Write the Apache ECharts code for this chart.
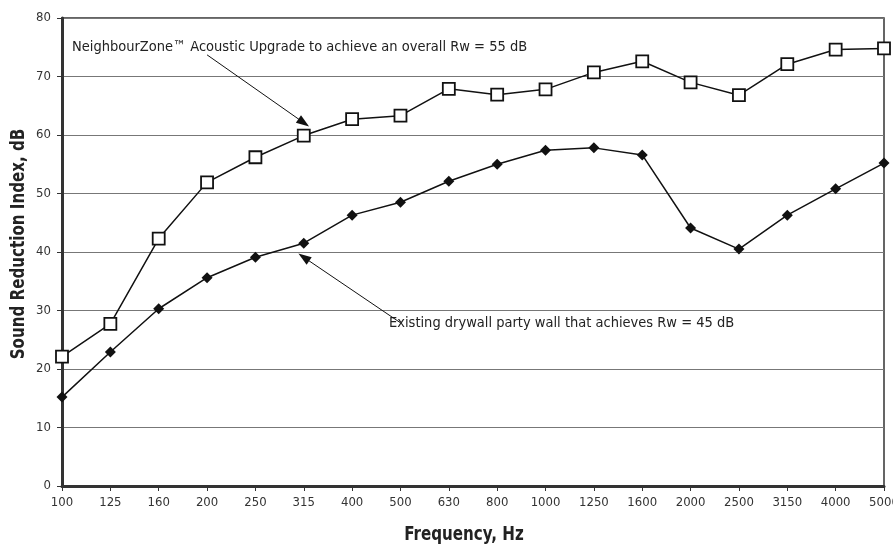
<!DOCTYPE html>
<html><head><meta charset="utf-8">
<script src="https://cdn.jsdelivr.net/npm/echarts@6/dist/echarts.min.js"></script>
<style>html,body{margin:0;padding:0;background:#fff}#c{width:893px;height:546px}</style>
</head><body><div id="c"></div>
<script>
const categories = ['100','125','160','200','250','315','400','500','630','800','1000','1250','1600','2000','2500','3150','4000','5000'];
const upgradeValues = [22.1,27.7,42.3,51.9,56.2,59.9,62.7,63.3,67.9,66.9,67.8,70.7,72.6,69.0,66.8,72.1,74.6,74.8];
const existingValues = [15.2,22.9,30.3,35.6,39.1,41.5,46.3,48.5,52.1,55.0,57.4,57.8,56.6,44.1,40.5,46.3,50.8,55.2];
const upgradeLabel = 'NeighbourZone™ Acoustic Upgrade to achieve an overall Rw = 55 dB';
const existingLabel = 'Existing drywall party wall that achieves Rw = 45 dB';
const xTitle = 'Frequency, Hz';
const yTitle = 'Sound Reduction Index, dB';

const FONT = "'Liberation Sans Narrow','DejaVu Sans Condensed','Roboto Condensed','Liberation Sans',sans-serif";
const chart = echarts.init(document.getElementById('c'), null, {renderer:'canvas'});
chart.setOption({
  animation:false,
  backgroundColor:'#fff',
  textStyle:{fontFamily:FONT},
  grid:{left:62,right:9,top:18,bottom:60,show:true,borderColor:'#333',borderWidth:1.5,backgroundColor:'transparent',
        containLabel:false,outerBoundsMode:'none'},
  xAxis:{type:'category',data:categories,boundaryGap:false,
    axisLine:{lineStyle:{color:'#333',width:3}},
    axisTick:{show:true,alignWithLabel:true,length:5,lineStyle:{color:'#333',width:1}},
    axisLabel:{color:'#333',fontSize:13,margin:10,fontFamily:FONT,hideOverlap:false},
    splitLine:{show:false}},
  yAxis:{type:'value',min:0,max:80,interval:10,
    axisLine:{show:true,lineStyle:{color:'#333',width:3}},
    axisTick:{show:true,length:5,lineStyle:{color:'#333',width:1}},
    axisLabel:{color:'#333',fontSize:13,margin:11,fontFamily:FONT},
    splitLine:{lineStyle:{color:'#777',width:1}}},
  series:[
    {type:'line',data:upgradeValues,symbol:'rect',symbolSize:12,
     lineStyle:{color:'#111',width:1.5},itemStyle:{color:'#fff',borderColor:'#111',borderWidth:1.8},z:3,
     markLine:{silent:true,symbol:['none','triangle'],symbolSize:[9,13],label:{show:false},
       itemStyle:{color:'#111'},
       lineStyle:{color:'#111',width:1,type:'solid'},
       data:[[{coord:[3.12,73.7]},{coord:[5.16,62.1]}]]}},
    {type:'line',data:existingValues,symbol:'diamond',symbolSize:11,
     lineStyle:{color:'#111',width:1.5},itemStyle:{color:'#111'},z:3,
     markLine:{silent:true,symbol:['none','triangle'],symbolSize:[9,13],label:{show:false},
       itemStyle:{color:'#111'},
       lineStyle:{color:'#111',width:1,type:'solid'},
       data:[[{coord:[6.68,27.9]},{coord:[4.52,39.1]}]]}}
  ],
  graphic:[
    {type:'text',x:72,y:47,style:{text:upgradeLabel,fontFamily:FONT,fontSize:14.5,fill:'#222',verticalAlign:'middle'}},
    {type:'text',x:389,y:323,style:{text:existingLabel,fontFamily:FONT,fontSize:14.5,fill:'#222',verticalAlign:'middle'}},
    {type:'text',x:464,y:535,scaleX:0.84,style:{text:xTitle,fontFamily:FONT,fontWeight:'bold',fontSize:20,fill:'#222',align:'center',verticalAlign:'middle'}},
    {type:'text',x:19,y:244,rotation:Math.PI/2,scaleX:0.84,style:{text:yTitle,fontFamily:FONT,fontWeight:'bold',fontSize:20,fill:'#222',align:'center',verticalAlign:'middle'}}
  ]
});
</script></body></html>
